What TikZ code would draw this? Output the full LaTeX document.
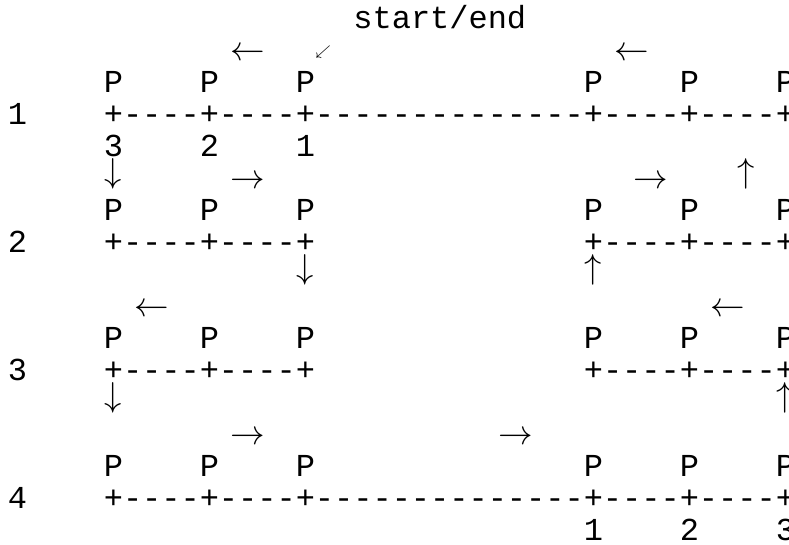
\documentclass[tikz,border=0pt]{standalone}
\usepackage{amssymb}
\usepackage{fontspec}
\setmonofont{Liberation Mono}
\usepackage{tikz}

\begin{document}
\begin{tikzpicture}[x=0.5pt,y=-0.5pt,
  txt/.style={anchor=base west,inner sep=0pt,font=\ttfamily\fontsize{16}{16}\selectfont},
  arr/.style={anchor=base,inner sep=0pt,font=\fontsize{16}{16}\selectfont}]
\useasboundingbox (0,0) rectangle (789,545);

\node[txt] (start) at ({7.4+19.2*18},29) {start/end};
\node[inner sep=0pt,font=\fontsize{7}{7}\selectfont] (mark) at (323,52) {$\swarrow$};

\foreach \r [count=\i] in {3,7,11,15}
  \node[txt] (lab\i) at (7.4,{29+32*\r}) {\i};

\foreach \r [count=\i] in {2,6,10,14}
  \foreach \c [count=\j] in {5,10,15,30,35,40}
    \node[txt] (p\i\j) at ({7.4+19.2*\c},{29+32*\r}) {P};

\node[txt] (line1) at ({7.4+19.2*5},{29+32*3}) {+----+----+--------------+----+----+};
\node[txt] (line2a) at ({7.4+19.2*5},{29+32*7}) {+----+----+};
\node[txt] (line2b) at ({7.4+19.2*30},{29+32*7}) {+----+----+};
\node[txt] (line3a) at ({7.4+19.2*5},{29+32*11}) {+----+----+};
\node[txt] (line3b) at ({7.4+19.2*30},{29+32*11}) {+----+----+};
\node[txt] (line4) at ({7.4+19.2*5},{29+32*15}) {+----+----+--------------+----+----+};

\foreach \c/\n [count=\j] in {5/3,10/2,15/1}
  \node[txt] (top\j) at ({7.4+19.2*\c},{29+32*4}) {\n};
\foreach \c/\n [count=\j] in {30/1,35/2,40/3}
  \node[txt] (bot\j) at ({7.4+19.2*\c},{29+32*16}) {\n};

\foreach \c/\r/\s [count=\k] in {12/1/\leftarrow,32/1/\leftarrow,
    12/5/\rightarrow,33/5/\rightarrow,7/9/\leftarrow,37/9/\leftarrow,
    12/13/\rightarrow,26/13/\rightarrow}
  \node[arr] (h\k) at ({17+19.2*\c},{29+32*\r}) {$\s$};

\foreach \c/\r/\s [count=\k] in {5/5/\downarrow,38/5/\uparrow,15/8/\downarrow,
    30/8/\uparrow,5/12/\downarrow,40/12/\uparrow}
  \node[arr] (v\k) at ({17+19.2*\c},{23+32*\r}) {$\s$};
\end{tikzpicture}
\end{document}
